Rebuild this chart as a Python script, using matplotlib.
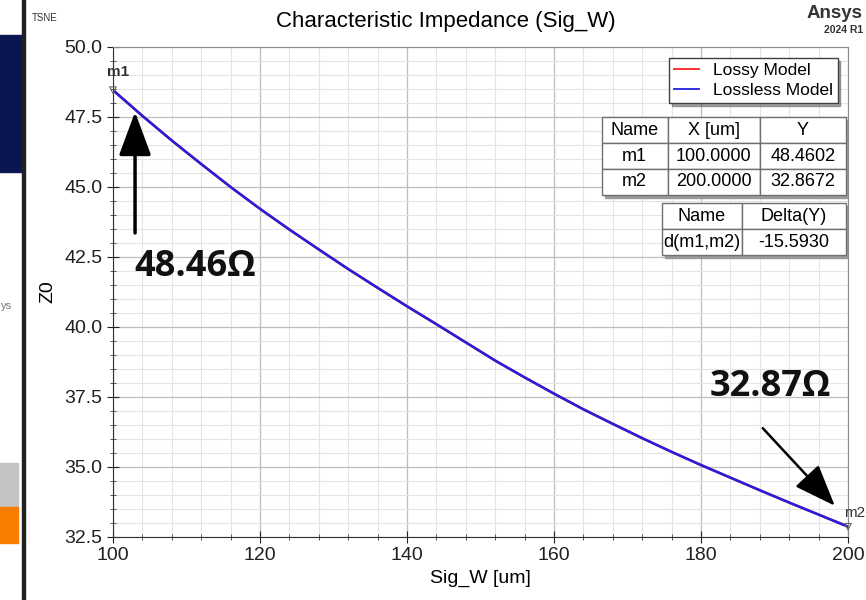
import matplotlib
matplotlib.use("Agg")
import matplotlib.pyplot as plt
from matplotlib.patches import Rectangle
from matplotlib.ticker import MultipleLocator, FormatStrFormatter

# Sweep of signal width vs. characteristic impedance
sig_w = [100, 104, 108, 112, 116, 120, 124, 128, 132, 136, 140, 144, 148,
         152, 156, 160, 164, 168, 172, 176, 180, 184, 188, 192, 196, 200]
z0_lossless = [48.46, 47.54, 46.66, 45.82, 45.00, 44.22, 43.48, 42.77, 42.07,
               41.40, 40.74, 40.10, 39.45, 38.80, 38.20, 37.62, 37.06, 36.54,
               36.03, 35.54, 35.07, 34.62, 34.17, 33.73, 33.30, 32.87]
z0_lossy = list(z0_lossless)  # lossy curve sits under the lossless one

marker_names = ["m1", "m2"]
marker_x = [100.0, 200.0]
marker_y = [48.4602, 32.8672]
delta_name = "d(m1,m2)"
delta_y = -15.5930

series_labels = ["Lossy Model", "Lossless Model"]

plt.rcParams["font.family"] = ["Liberation Sans", "DejaVu Sans"]

fig = plt.figure(figsize=(8.66, 6.0), dpi=100)
W, H = 866.0, 600.0

# strip of the neighbouring slide on the left edge
fig.patches.append(Rectangle((0, 1 - 172 / H), 22 / W, 137 / H,
                             transform=fig.transFigure, color="#0b1650", zorder=0))
fig.patches.append(Rectangle((0, 1 - 507 / H), 18 / W, 44 / H,
                             transform=fig.transFigure, color="#c4c4c4", zorder=0))
fig.patches.append(Rectangle((0, 1 - 543 / H), 18 / W, 36 / H,
                             transform=fig.transFigure, color="#fa7d00", zorder=0))
fig.patches.append(Rectangle((22 / W, 0), 2.5 / W, 1,
                             transform=fig.transFigure, color="#202020", zorder=0))
fig.text(1 / W, 1 - 306 / H, "ys", fontsize=8, color="#777777", va="center")

ax = fig.add_axes([113 / W, 1 - 537 / H, 735 / W, 490 / H])

ax.plot(sig_w, z0_lossy, color="#ff2020", lw=1.8, label=series_labels[0], zorder=3)
ax.plot(sig_w, z0_lossless, color="#2020e0", lw=1.8, label=series_labels[1], zorder=3)

ax.set_xlim(100, 200)
ax.set_ylim(32.5, 50.0)
ax.xaxis.set_major_locator(MultipleLocator(20))
ax.xaxis.set_minor_locator(MultipleLocator(4))
ax.yaxis.set_major_locator(MultipleLocator(2.5))
ax.yaxis.set_minor_locator(MultipleLocator(0.5))
ax.yaxis.set_major_formatter(FormatStrFormatter("%.1f"))
ax.grid(True, which="major", color="#bdbdbd", lw=0.9)
ax.grid(True, which="minor", color="#e4e4e4", lw=0.8)
ax.set_axisbelow(True)
ax.tick_params(which="major", direction="inout", length=8, labelsize=14,
               colors="#202020", labelcolor="#202020")
ax.tick_params(which="minor", direction="inout", length=5, color="#404040")
for side in ("left", "bottom"):
    ax.spines[side].set_color("#303030")
for side in ("top", "right"):
    ax.spines[side].set_color("#8a8a8a")

ax.set_xlabel("Sig_W [um]", fontsize=14, labelpad=4)
ax.set_ylabel("Z0", fontsize=14, labelpad=6)

fig.text(446 / W, 1 - 22 / H, "Characteristic Impedance (Sig_W)", fontsize=16,
         ha="center", va="center")
fig.text(32 / W, 1 - 18 / H, "TSNE", fontsize=7, color="#333333", va="center")
fig.text(863 / W, 1 - 13 / H, "Ansys", fontsize=13.5, fontweight="bold",
         color="#333333", ha="right", va="center")
fig.text(863 / W, 1 - 30 / H, "2024 R1", fontsize=7.5, fontweight="bold",
         color="#333333", ha="right", va="center")

# marker points
ax.scatter(marker_x, marker_y, marker="v", s=22, facecolor="none",
           edgecolor="#666666", lw=0.8, zorder=5, clip_on=False)
ax.annotate(marker_names[0], (marker_x[0], marker_y[0]), xytext=(-4, 8),
            textcoords="offset points", fontsize=11, fontweight="bold",
            color="#333333", ha="left", va="bottom", annotation_clip=False)
ax.annotate(marker_names[1], (marker_x[1], marker_y[1]), xytext=(-3, 5),
            textcoords="offset points", fontsize=11, color="#333333",
            ha="left", va="bottom", annotation_clip=False)

# legend
leg = ax.legend(loc="upper right", bbox_to_anchor=(0.986, 0.978), borderaxespad=0,
                fontsize=12.5, fancybox=False, shadow=True, framealpha=1,
                edgecolor="#404040", handlelength=1.4, borderpad=0.3,
                labelspacing=0.25)
leg.get_frame().set_linewidth(1.0)
for line in leg.get_lines():
    line.set_linewidth(1.3)


def draw_table(rows, header, bbox, col_widths):
    shadow = Rectangle((bbox[0] + 3 / 735, bbox[1] - 3 / 490), bbox[2], bbox[3],
                       transform=ax.transAxes, color="#9a9a9a", zorder=6)
    ax.add_patch(shadow)
    tbl = ax.table(cellText=rows, colLabels=header, bbox=bbox,
                   colWidths=col_widths, cellLoc="center")
    tbl.auto_set_font_size(False)
    tbl.set_fontsize(13)
    tbl.set_zorder(7)
    for cell in tbl.get_celld().values():
        cell.set_edgecolor("#707070")
        cell.set_linewidth(1.0)
        cell.set_facecolor("white")
    return tbl


marker_rows = [[n, f"{x:.4f}", f"{y:.4f}"]
               for n, x, y in zip(marker_names, marker_x, marker_y)]
draw_table(marker_rows, ["Name", "X [um]", "Y"],
           [0.665, 0.698, 0.332, 0.159], [0.27, 0.377, 0.353])
draw_table([[delta_name, f"{delta_y:.4f}"]], ["Name", "Delta(Y)"],
           [0.747, 0.5755, 0.250, 0.106], [0.435, 0.565])

# callouts
big = dict(fontsize=26, fontweight="bold", family=["Open Sans", "DejaVu Sans"],
           color="#111111")
ax.annotate("", xy=(marker_x[0] + 3.0, marker_y[0] - 0.78),
            xytext=(marker_x[0] + 3.0, marker_y[0] - 5.1),
            arrowprops=dict(arrowstyle="-|>,head_length=1.35,head_width=0.5",
                            mutation_scale=20, lw=2.5, color="black",
                            shrinkA=0, shrinkB=0), zorder=8)
ax.text(marker_x[0] + 11.2, marker_y[0] - 6.3, f"{marker_y[0]:.2f}Ω",
        ha="center", va="center", **big)
ax.annotate("", xy=(marker_x[1] - 1.8, marker_y[1] + 0.75),
            xytext=(marker_x[1] - 11.6, marker_y[1] + 3.52),
            arrowprops=dict(arrowstyle="-|>,head_length=1.3,head_width=0.5",
                            mutation_scale=20, lw=1.8, color="black",
                            shrinkA=0, shrinkB=0), zorder=8)
ax.text(marker_x[1] - 10.6, marker_y[1] + 5.0, f"{marker_y[1]:.2f}Ω",
        ha="center", va="center", **big)

fig.savefig("out.png", dpi=100)
